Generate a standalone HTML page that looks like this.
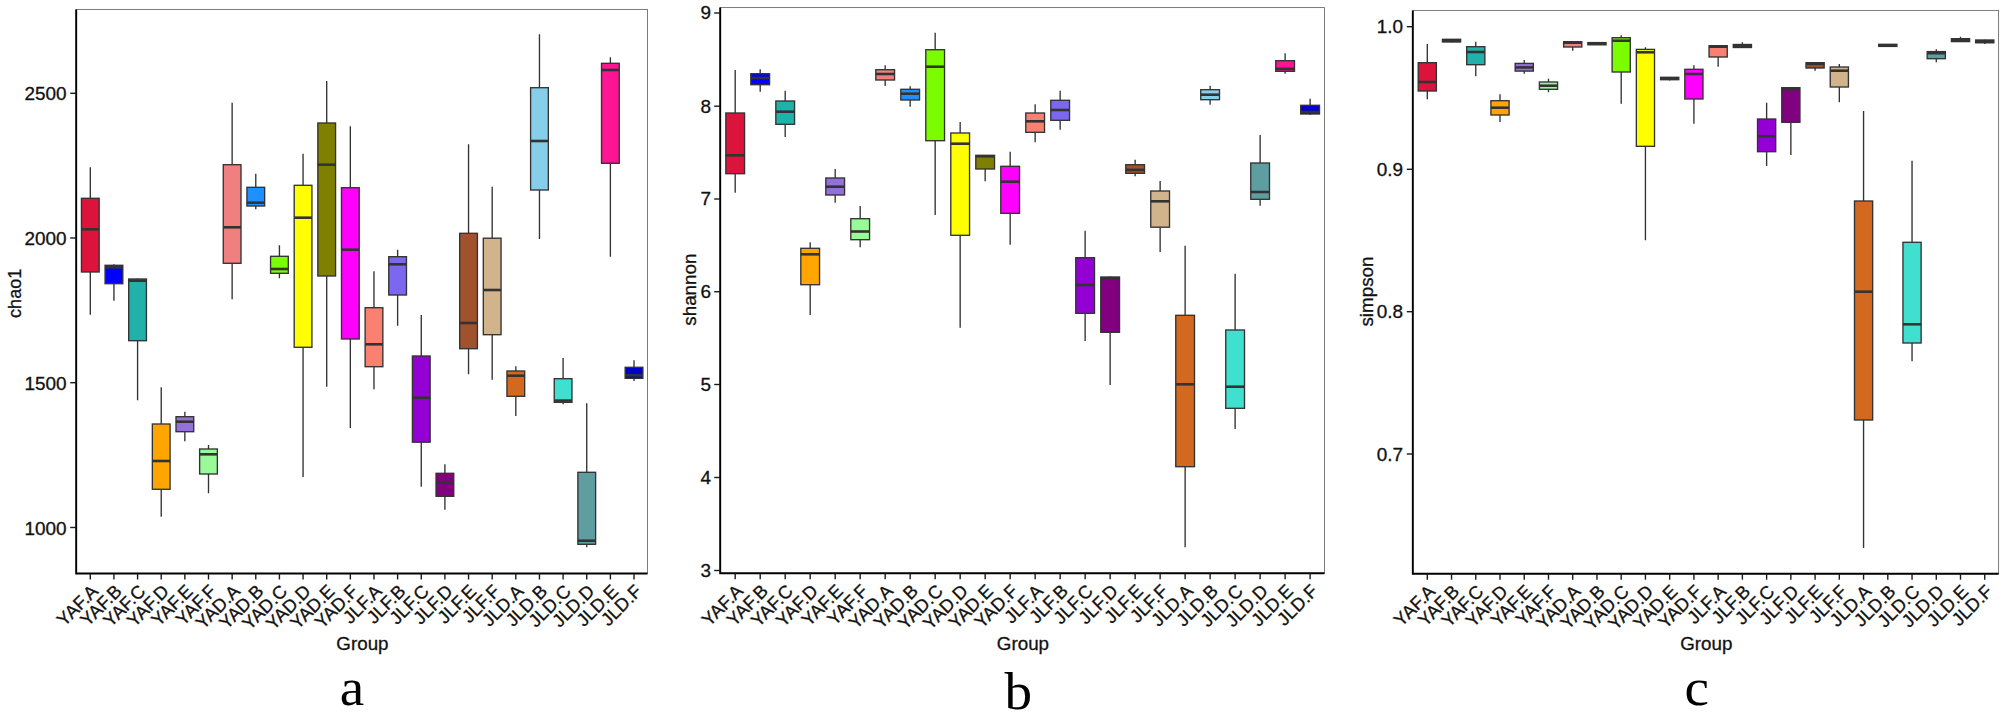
<!DOCTYPE html>
<html lang="en"><head><meta charset="utf-8"><title>Alpha diversity boxplots</title>
<style>html,body{margin:0;padding:0;background:#fff}body{width:2006px;height:720px;overflow:hidden}svg{display:block}text{font-family:"Liberation Sans",sans-serif;fill:#111}text{stroke:#111;stroke-width:0.3px}.t{font-size:18.2px}.x{font-size:18.3px}.g{font-size:18.8px}.s{font-family:"Liberation Serif",serif;font-size:53px;fill:#000;stroke:none}</style></head><body>
<svg width="2006" height="720" viewBox="0 0 2006 720">
<rect width="2006" height="720" fill="#fff"/>
<g>
<rect x="76.20" y="9.40" width="571.30" height="564.10" fill="none" stroke="#666" stroke-width="0.85"/>
<path d="M90.30 167.30V198.30M90.30 272.00V314.70" stroke="#333" stroke-width="1.35" fill="none"/>
<rect x="81.44" y="198.30" width="17.73" height="73.70" fill="#DC143C" stroke="#333" stroke-width="1.35"/>
<path d="M81.44 229.30H99.16" stroke="#333" stroke-width="2.6" fill="none"/>
<path d="M113.94 264.30V265.30M113.94 283.70V300.70" stroke="#333" stroke-width="1.35" fill="none"/>
<rect x="105.08" y="265.30" width="17.73" height="18.40" fill="#0000FF" stroke="#333" stroke-width="1.35"/>
<path d="M105.08 267.30H122.80" stroke="#333" stroke-width="2.6" fill="none"/>
<path d="M137.58 278.50V279.00M137.58 340.70V400.30" stroke="#333" stroke-width="1.35" fill="none"/>
<rect x="128.71" y="279.00" width="17.73" height="61.70" fill="#20B2AA" stroke="#333" stroke-width="1.35"/>
<path d="M128.71 280.70H146.44" stroke="#333" stroke-width="2.6" fill="none"/>
<path d="M161.22 387.30V424.00M161.22 489.30V516.70" stroke="#333" stroke-width="1.35" fill="none"/>
<rect x="152.35" y="424.00" width="17.73" height="65.30" fill="#FFA500" stroke="#333" stroke-width="1.35"/>
<path d="M152.35 461.00H170.09" stroke="#333" stroke-width="2.6" fill="none"/>
<path d="M184.86 411.70V416.70M184.86 431.70V441.30" stroke="#333" stroke-width="1.35" fill="none"/>
<rect x="176.00" y="416.70" width="17.73" height="15.00" fill="#9370DB" stroke="#333" stroke-width="1.35"/>
<path d="M176.00 421.70H193.73" stroke="#333" stroke-width="2.6" fill="none"/>
<path d="M208.50 445.00V449.00M208.50 474.00V493.30" stroke="#333" stroke-width="1.35" fill="none"/>
<rect x="199.63" y="449.00" width="17.73" height="25.00" fill="#98FB98" stroke="#333" stroke-width="1.35"/>
<path d="M199.63 454.30H217.37" stroke="#333" stroke-width="2.6" fill="none"/>
<path d="M232.14 102.70V164.70M232.14 263.30V299.30" stroke="#333" stroke-width="1.35" fill="none"/>
<rect x="223.27" y="164.70" width="17.73" height="98.60" fill="#F08080" stroke="#333" stroke-width="1.35"/>
<path d="M223.27 227.30H241.00" stroke="#333" stroke-width="2.6" fill="none"/>
<path d="M255.78 173.70V187.30M255.78 206.00V209.30" stroke="#333" stroke-width="1.35" fill="none"/>
<rect x="246.92" y="187.30" width="17.73" height="18.70" fill="#1E90FF" stroke="#333" stroke-width="1.35"/>
<path d="M246.92 202.70H264.65" stroke="#333" stroke-width="2.6" fill="none"/>
<path d="M279.42 245.30V256.30M279.42 273.30V278.30" stroke="#333" stroke-width="1.35" fill="none"/>
<rect x="270.56" y="256.30" width="17.73" height="17.00" fill="#7CFC00" stroke="#333" stroke-width="1.35"/>
<path d="M270.56 269.00H288.29" stroke="#333" stroke-width="2.6" fill="none"/>
<path d="M303.06 153.70V185.30M303.06 347.30V477.00" stroke="#333" stroke-width="1.35" fill="none"/>
<rect x="294.19" y="185.30" width="17.73" height="162.00" fill="#FFFF00" stroke="#333" stroke-width="1.35"/>
<path d="M294.19 217.70H311.93" stroke="#333" stroke-width="2.6" fill="none"/>
<path d="M326.70 81.00V123.00M326.70 276.00V386.70" stroke="#333" stroke-width="1.35" fill="none"/>
<rect x="317.83" y="123.00" width="17.73" height="153.00" fill="#808000" stroke="#333" stroke-width="1.35"/>
<path d="M317.83 164.70H335.56" stroke="#333" stroke-width="2.6" fill="none"/>
<path d="M350.34 126.30V187.70M350.34 339.00V428.00" stroke="#333" stroke-width="1.35" fill="none"/>
<rect x="341.48" y="187.70" width="17.73" height="151.30" fill="#FF00FF" stroke="#333" stroke-width="1.35"/>
<path d="M341.48 249.70H359.21" stroke="#333" stroke-width="2.6" fill="none"/>
<path d="M373.98 271.30V307.70M373.98 366.70V389.30" stroke="#333" stroke-width="1.35" fill="none"/>
<rect x="365.12" y="307.70" width="17.73" height="59.00" fill="#FA8072" stroke="#333" stroke-width="1.35"/>
<path d="M365.12 344.30H382.85" stroke="#333" stroke-width="2.6" fill="none"/>
<path d="M397.62 249.70V256.70M397.62 295.00V325.70" stroke="#333" stroke-width="1.35" fill="none"/>
<rect x="388.75" y="256.70" width="17.73" height="38.30" fill="#7B68EE" stroke="#333" stroke-width="1.35"/>
<path d="M388.75 264.30H406.49" stroke="#333" stroke-width="2.6" fill="none"/>
<path d="M421.26 315.00V356.00M421.26 442.20V486.70" stroke="#333" stroke-width="1.35" fill="none"/>
<rect x="412.40" y="356.00" width="17.73" height="86.20" fill="#9400D3" stroke="#333" stroke-width="1.35"/>
<path d="M412.40 397.70H430.13" stroke="#333" stroke-width="2.6" fill="none"/>
<path d="M444.90 464.30V473.30M444.90 496.30V509.70" stroke="#333" stroke-width="1.35" fill="none"/>
<rect x="436.04" y="473.30" width="17.73" height="23.00" fill="#800080" stroke="#333" stroke-width="1.35"/>
<path d="M436.04 482.70H453.77" stroke="#333" stroke-width="2.6" fill="none"/>
<path d="M468.54 144.30V233.30M468.54 348.70V374.30" stroke="#333" stroke-width="1.35" fill="none"/>
<rect x="459.68" y="233.30" width="17.73" height="115.40" fill="#A0522D" stroke="#333" stroke-width="1.35"/>
<path d="M459.68 323.00H477.41" stroke="#333" stroke-width="2.6" fill="none"/>
<path d="M492.18 186.70V238.20M492.18 334.70V379.70" stroke="#333" stroke-width="1.35" fill="none"/>
<rect x="483.31" y="238.20" width="17.73" height="96.50" fill="#D2B48C" stroke="#333" stroke-width="1.35"/>
<path d="M483.31 290.00H501.05" stroke="#333" stroke-width="2.6" fill="none"/>
<path d="M515.82 366.30V371.00M515.82 396.30V416.00" stroke="#333" stroke-width="1.35" fill="none"/>
<rect x="506.95" y="371.00" width="17.73" height="25.30" fill="#D2691E" stroke="#333" stroke-width="1.35"/>
<path d="M506.95 375.70H524.68" stroke="#333" stroke-width="2.6" fill="none"/>
<path d="M539.46 34.30V87.70M539.46 190.00V239.00" stroke="#333" stroke-width="1.35" fill="none"/>
<rect x="530.60" y="87.70" width="17.73" height="102.30" fill="#87CEEB" stroke="#333" stroke-width="1.35"/>
<path d="M530.60 141.00H548.33" stroke="#333" stroke-width="2.6" fill="none"/>
<path d="M563.10 358.00V378.70M563.10 402.30V404.30" stroke="#333" stroke-width="1.35" fill="none"/>
<rect x="554.24" y="378.70" width="17.73" height="23.60" fill="#40E0D0" stroke="#333" stroke-width="1.35"/>
<path d="M554.24 400.60H571.97" stroke="#333" stroke-width="2.6" fill="none"/>
<path d="M586.74 403.30V472.30M586.74 544.30V547.30" stroke="#333" stroke-width="1.35" fill="none"/>
<rect x="577.88" y="472.30" width="17.73" height="72.00" fill="#5F9EA0" stroke="#333" stroke-width="1.35"/>
<path d="M577.88 540.70H595.61" stroke="#333" stroke-width="2.6" fill="none"/>
<path d="M610.38 57.30V63.30M610.38 163.30V256.70" stroke="#333" stroke-width="1.35" fill="none"/>
<rect x="601.51" y="63.30" width="17.73" height="100.00" fill="#FF1493" stroke="#333" stroke-width="1.35"/>
<path d="M601.51 70.00H619.25" stroke="#333" stroke-width="2.6" fill="none"/>
<path d="M634.02 360.30V367.30M634.02 378.30V381.00" stroke="#333" stroke-width="1.35" fill="none"/>
<rect x="625.15" y="367.30" width="17.73" height="11.00" fill="#0000CD" stroke="#333" stroke-width="1.35"/>
<path d="M625.15 375.30H642.88" stroke="#333" stroke-width="2.6" fill="none"/>
<path d="M76.20 9.40V573.50H647.50" stroke="#000" stroke-width="1.9" fill="none" stroke-linejoin="miter"/>
<path d="M70.20 93.30H76.20" stroke="#1a1a1a" stroke-width="1.4"/>
<text class="t" text-anchor="end" transform="translate(66.50 100.35) scale(1.04 1)">2500</text>
<path d="M70.20 238.00H76.20" stroke="#1a1a1a" stroke-width="1.4"/>
<text class="t" text-anchor="end" transform="translate(66.50 245.05) scale(1.04 1)">2000</text>
<path d="M70.20 382.70H76.20" stroke="#1a1a1a" stroke-width="1.4"/>
<text class="t" text-anchor="end" transform="translate(66.50 389.75) scale(1.04 1)">1500</text>
<path d="M70.20 527.50H76.20" stroke="#1a1a1a" stroke-width="1.4"/>
<text class="t" text-anchor="end" transform="translate(66.50 534.55) scale(1.04 1)">1000</text>
<path d="M90.30 573.50V579.50" stroke="#1a1a1a" stroke-width="1.4"/>
<text class="x" text-anchor="end" transform="translate(99.20 592.40) rotate(-45)">YAF.A</text>
<path d="M113.94 573.50V579.50" stroke="#1a1a1a" stroke-width="1.4"/>
<text class="x" text-anchor="end" transform="translate(122.84 592.40) rotate(-45)">YAF.B</text>
<path d="M137.58 573.50V579.50" stroke="#1a1a1a" stroke-width="1.4"/>
<text class="x" text-anchor="end" transform="translate(146.48 592.40) rotate(-45)">YAF.C</text>
<path d="M161.22 573.50V579.50" stroke="#1a1a1a" stroke-width="1.4"/>
<text class="x" text-anchor="end" transform="translate(170.12 592.40) rotate(-45)">YAF.D</text>
<path d="M184.86 573.50V579.50" stroke="#1a1a1a" stroke-width="1.4"/>
<text class="x" text-anchor="end" transform="translate(193.76 592.40) rotate(-45)">YAF.E</text>
<path d="M208.50 573.50V579.50" stroke="#1a1a1a" stroke-width="1.4"/>
<text class="x" text-anchor="end" transform="translate(217.40 592.40) rotate(-45)">YAF.F</text>
<path d="M232.14 573.50V579.50" stroke="#1a1a1a" stroke-width="1.4"/>
<text class="x" text-anchor="end" transform="translate(241.04 592.40) rotate(-45)">YAD.A</text>
<path d="M255.78 573.50V579.50" stroke="#1a1a1a" stroke-width="1.4"/>
<text class="x" text-anchor="end" transform="translate(264.68 592.40) rotate(-45)">YAD.B</text>
<path d="M279.42 573.50V579.50" stroke="#1a1a1a" stroke-width="1.4"/>
<text class="x" text-anchor="end" transform="translate(288.32 592.40) rotate(-45)">YAD.C</text>
<path d="M303.06 573.50V579.50" stroke="#1a1a1a" stroke-width="1.4"/>
<text class="x" text-anchor="end" transform="translate(311.96 592.40) rotate(-45)">YAD.D</text>
<path d="M326.70 573.50V579.50" stroke="#1a1a1a" stroke-width="1.4"/>
<text class="x" text-anchor="end" transform="translate(335.60 592.40) rotate(-45)">YAD.E</text>
<path d="M350.34 573.50V579.50" stroke="#1a1a1a" stroke-width="1.4"/>
<text class="x" text-anchor="end" transform="translate(359.24 592.40) rotate(-45)">YAD.F</text>
<path d="M373.98 573.50V579.50" stroke="#1a1a1a" stroke-width="1.4"/>
<text class="x" text-anchor="end" transform="translate(382.88 592.40) rotate(-45)">JLF.A</text>
<path d="M397.62 573.50V579.50" stroke="#1a1a1a" stroke-width="1.4"/>
<text class="x" text-anchor="end" transform="translate(406.52 592.40) rotate(-45)">JLF.B</text>
<path d="M421.26 573.50V579.50" stroke="#1a1a1a" stroke-width="1.4"/>
<text class="x" text-anchor="end" transform="translate(430.16 592.40) rotate(-45)">JLF.C</text>
<path d="M444.90 573.50V579.50" stroke="#1a1a1a" stroke-width="1.4"/>
<text class="x" text-anchor="end" transform="translate(453.80 592.40) rotate(-45)">JLF.D</text>
<path d="M468.54 573.50V579.50" stroke="#1a1a1a" stroke-width="1.4"/>
<text class="x" text-anchor="end" transform="translate(477.44 592.40) rotate(-45)">JLF.E</text>
<path d="M492.18 573.50V579.50" stroke="#1a1a1a" stroke-width="1.4"/>
<text class="x" text-anchor="end" transform="translate(501.08 592.40) rotate(-45)">JLF.F</text>
<path d="M515.82 573.50V579.50" stroke="#1a1a1a" stroke-width="1.4"/>
<text class="x" text-anchor="end" transform="translate(524.72 592.40) rotate(-45)">JLD.A</text>
<path d="M539.46 573.50V579.50" stroke="#1a1a1a" stroke-width="1.4"/>
<text class="x" text-anchor="end" transform="translate(548.36 592.40) rotate(-45)">JLD.B</text>
<path d="M563.10 573.50V579.50" stroke="#1a1a1a" stroke-width="1.4"/>
<text class="x" text-anchor="end" transform="translate(572.00 592.40) rotate(-45)">JLD.C</text>
<path d="M586.74 573.50V579.50" stroke="#1a1a1a" stroke-width="1.4"/>
<text class="x" text-anchor="end" transform="translate(595.64 592.40) rotate(-45)">JLD.D</text>
<path d="M610.38 573.50V579.50" stroke="#1a1a1a" stroke-width="1.4"/>
<text class="x" text-anchor="end" transform="translate(619.28 592.40) rotate(-45)">JLD.E</text>
<path d="M634.02 573.50V579.50" stroke="#1a1a1a" stroke-width="1.4"/>
<text class="x" text-anchor="end" transform="translate(642.92 592.40) rotate(-45)">JLD.F</text>
<text class="g" text-anchor="middle" transform="translate(362.45 650)">Group</text>
<text class="g" text-anchor="middle" transform="translate(20.90 293.35) rotate(-90) scale(0.96 1)">chao1</text>
<text class="s" text-anchor="middle" transform="translate(352.00 705.30) scale(1.04 1)">a</text>
</g>
<g>
<rect x="720.20" y="7.60" width="604.30" height="565.70" fill="none" stroke="#666" stroke-width="0.85"/>
<path d="M735.20 70.00V113.00M735.20 173.70V192.70" stroke="#333" stroke-width="1.35" fill="none"/>
<rect x="725.83" y="113.00" width="18.75" height="60.70" fill="#DC143C" stroke="#333" stroke-width="1.35"/>
<path d="M725.83 155.30H744.57" stroke="#333" stroke-width="2.6" fill="none"/>
<path d="M760.20 69.30V73.70M760.20 84.70V91.70" stroke="#333" stroke-width="1.35" fill="none"/>
<rect x="750.82" y="73.70" width="18.75" height="11.00" fill="#0000FF" stroke="#333" stroke-width="1.35"/>
<path d="M750.82 78.00H769.57" stroke="#333" stroke-width="2.6" fill="none"/>
<path d="M785.19 90.70V101.00M785.19 124.30V137.00" stroke="#333" stroke-width="1.35" fill="none"/>
<rect x="775.82" y="101.00" width="18.75" height="23.30" fill="#20B2AA" stroke="#333" stroke-width="1.35"/>
<path d="M775.82 111.70H794.57" stroke="#333" stroke-width="2.6" fill="none"/>
<path d="M810.19 242.30V248.30M810.19 284.70V315.00" stroke="#333" stroke-width="1.35" fill="none"/>
<rect x="800.81" y="248.30" width="18.75" height="36.40" fill="#FFA500" stroke="#333" stroke-width="1.35"/>
<path d="M800.81 254.30H819.56" stroke="#333" stroke-width="2.6" fill="none"/>
<path d="M835.18 169.00V178.00M835.18 195.00V202.70" stroke="#333" stroke-width="1.35" fill="none"/>
<rect x="825.81" y="178.00" width="18.75" height="17.00" fill="#9370DB" stroke="#333" stroke-width="1.35"/>
<path d="M825.81 186.70H844.56" stroke="#333" stroke-width="2.6" fill="none"/>
<path d="M860.18 206.00V218.70M860.18 239.70V247.30" stroke="#333" stroke-width="1.35" fill="none"/>
<rect x="850.81" y="218.70" width="18.75" height="21.00" fill="#98FB98" stroke="#333" stroke-width="1.35"/>
<path d="M850.81 231.50H869.55" stroke="#333" stroke-width="2.6" fill="none"/>
<path d="M885.18 65.30V69.70M885.18 80.00V86.00" stroke="#333" stroke-width="1.35" fill="none"/>
<rect x="875.80" y="69.70" width="18.75" height="10.30" fill="#F08080" stroke="#333" stroke-width="1.35"/>
<path d="M875.80 74.00H894.55" stroke="#333" stroke-width="2.6" fill="none"/>
<path d="M910.17 86.30V89.30M910.17 100.00V106.70" stroke="#333" stroke-width="1.35" fill="none"/>
<rect x="900.80" y="89.30" width="18.75" height="10.70" fill="#1E90FF" stroke="#333" stroke-width="1.35"/>
<path d="M900.80 93.70H919.55" stroke="#333" stroke-width="2.6" fill="none"/>
<path d="M935.17 32.70V49.70M935.17 140.70V215.00" stroke="#333" stroke-width="1.35" fill="none"/>
<rect x="925.79" y="49.70" width="18.75" height="91.00" fill="#7CFC00" stroke="#333" stroke-width="1.35"/>
<path d="M925.79 66.70H944.54" stroke="#333" stroke-width="2.6" fill="none"/>
<path d="M960.16 122.00V133.00M960.16 235.30V327.70" stroke="#333" stroke-width="1.35" fill="none"/>
<rect x="950.79" y="133.00" width="18.75" height="102.30" fill="#FFFF00" stroke="#333" stroke-width="1.35"/>
<path d="M950.79 143.70H969.54" stroke="#333" stroke-width="2.6" fill="none"/>
<path d="M985.16 155.00V155.30M985.16 169.00V181.30" stroke="#333" stroke-width="1.35" fill="none"/>
<rect x="975.79" y="155.30" width="18.75" height="13.70" fill="#808000" stroke="#333" stroke-width="1.35"/>
<path d="M975.79 156.30H994.53" stroke="#333" stroke-width="2.6" fill="none"/>
<path d="M1010.16 151.70V166.30M1010.16 213.30V244.70" stroke="#333" stroke-width="1.35" fill="none"/>
<rect x="1000.78" y="166.30" width="18.75" height="47.00" fill="#FF00FF" stroke="#333" stroke-width="1.35"/>
<path d="M1000.78 181.70H1019.53" stroke="#333" stroke-width="2.6" fill="none"/>
<path d="M1035.15 104.30V113.00M1035.15 132.30V142.30" stroke="#333" stroke-width="1.35" fill="none"/>
<rect x="1025.78" y="113.00" width="18.75" height="19.30" fill="#FA8072" stroke="#333" stroke-width="1.35"/>
<path d="M1025.78 121.30H1044.53" stroke="#333" stroke-width="2.6" fill="none"/>
<path d="M1060.15 90.70V100.30M1060.15 120.30V129.70" stroke="#333" stroke-width="1.35" fill="none"/>
<rect x="1050.77" y="100.30" width="18.75" height="20.00" fill="#7B68EE" stroke="#333" stroke-width="1.35"/>
<path d="M1050.77 110.00H1069.52" stroke="#333" stroke-width="2.6" fill="none"/>
<path d="M1085.14 230.70V257.70M1085.14 313.30V341.00" stroke="#333" stroke-width="1.35" fill="none"/>
<rect x="1075.77" y="257.70" width="18.75" height="55.60" fill="#9400D3" stroke="#333" stroke-width="1.35"/>
<path d="M1075.77 285.00H1094.52" stroke="#333" stroke-width="2.6" fill="none"/>
<path d="M1110.14 276.50V277.00M1110.14 332.30V385.00" stroke="#333" stroke-width="1.35" fill="none"/>
<rect x="1100.77" y="277.00" width="18.75" height="55.30" fill="#800080" stroke="#333" stroke-width="1.35"/>
<path d="M1100.77 278.70H1119.51" stroke="#333" stroke-width="2.6" fill="none"/>
<path d="M1135.14 159.70V164.70M1135.14 173.30V176.30" stroke="#333" stroke-width="1.35" fill="none"/>
<rect x="1125.76" y="164.70" width="18.75" height="8.60" fill="#A0522D" stroke="#333" stroke-width="1.35"/>
<path d="M1125.76 169.90H1144.51" stroke="#333" stroke-width="2.6" fill="none"/>
<path d="M1160.13 181.00V191.00M1160.13 227.20V252.00" stroke="#333" stroke-width="1.35" fill="none"/>
<rect x="1150.76" y="191.00" width="18.75" height="36.20" fill="#D2B48C" stroke="#333" stroke-width="1.35"/>
<path d="M1150.76 201.30H1169.51" stroke="#333" stroke-width="2.6" fill="none"/>
<path d="M1185.13 245.70V315.30M1185.13 466.70V547.30" stroke="#333" stroke-width="1.35" fill="none"/>
<rect x="1175.75" y="315.30" width="18.75" height="151.40" fill="#D2691E" stroke="#333" stroke-width="1.35"/>
<path d="M1175.75 384.30H1194.50" stroke="#333" stroke-width="2.6" fill="none"/>
<path d="M1210.12 85.70V89.70M1210.12 99.70V104.70" stroke="#333" stroke-width="1.35" fill="none"/>
<rect x="1200.75" y="89.70" width="18.75" height="10.00" fill="#87CEEB" stroke="#333" stroke-width="1.35"/>
<path d="M1200.75 94.70H1219.50" stroke="#333" stroke-width="2.6" fill="none"/>
<path d="M1235.12 273.70V330.00M1235.12 408.30V429.00" stroke="#333" stroke-width="1.35" fill="none"/>
<rect x="1225.75" y="330.00" width="18.75" height="78.30" fill="#40E0D0" stroke="#333" stroke-width="1.35"/>
<path d="M1225.75 386.70H1244.49" stroke="#333" stroke-width="2.6" fill="none"/>
<path d="M1260.12 135.00V163.00M1260.12 199.30V205.70" stroke="#333" stroke-width="1.35" fill="none"/>
<rect x="1250.74" y="163.00" width="18.75" height="36.30" fill="#5F9EA0" stroke="#333" stroke-width="1.35"/>
<path d="M1250.74 192.00H1269.49" stroke="#333" stroke-width="2.6" fill="none"/>
<path d="M1285.11 53.30V60.70M1285.11 71.30V73.70" stroke="#333" stroke-width="1.35" fill="none"/>
<rect x="1275.74" y="60.70" width="18.75" height="10.60" fill="#FF1493" stroke="#333" stroke-width="1.35"/>
<path d="M1275.74 68.90H1294.49" stroke="#333" stroke-width="2.6" fill="none"/>
<path d="M1310.11 98.70V105.30M1310.11 114.00V115.00" stroke="#333" stroke-width="1.35" fill="none"/>
<rect x="1300.73" y="105.30" width="18.75" height="8.70" fill="#0000CD" stroke="#333" stroke-width="1.35"/>
<path d="M1300.73 112.00H1319.48" stroke="#333" stroke-width="2.6" fill="none"/>
<path d="M720.20 7.60V573.30H1324.50" stroke="#000" stroke-width="1.9" fill="none" stroke-linejoin="miter"/>
<path d="M714.20 13.00H720.20" stroke="#1a1a1a" stroke-width="1.4"/>
<text class="t" text-anchor="end" transform="translate(711.00 19.45) scale(1.04 1)">9</text>
<path d="M714.20 106.20H720.20" stroke="#1a1a1a" stroke-width="1.4"/>
<text class="t" text-anchor="end" transform="translate(711.00 112.65) scale(1.04 1)">8</text>
<path d="M714.20 199.00H720.20" stroke="#1a1a1a" stroke-width="1.4"/>
<text class="t" text-anchor="end" transform="translate(711.00 205.45) scale(1.04 1)">7</text>
<path d="M714.20 291.70H720.20" stroke="#1a1a1a" stroke-width="1.4"/>
<text class="t" text-anchor="end" transform="translate(711.00 298.15) scale(1.04 1)">6</text>
<path d="M714.20 384.50H720.20" stroke="#1a1a1a" stroke-width="1.4"/>
<text class="t" text-anchor="end" transform="translate(711.00 390.95) scale(1.04 1)">5</text>
<path d="M714.20 477.50H720.20" stroke="#1a1a1a" stroke-width="1.4"/>
<text class="t" text-anchor="end" transform="translate(711.00 483.95) scale(1.04 1)">4</text>
<path d="M714.20 570.50H720.20" stroke="#1a1a1a" stroke-width="1.4"/>
<text class="t" text-anchor="end" transform="translate(711.00 576.95) scale(1.04 1)">3</text>
<path d="M735.20 573.30V579.30" stroke="#1a1a1a" stroke-width="1.4"/>
<text class="x" text-anchor="end" transform="translate(744.10 592.20) rotate(-45)">YAF.A</text>
<path d="M760.20 573.30V579.30" stroke="#1a1a1a" stroke-width="1.4"/>
<text class="x" text-anchor="end" transform="translate(769.10 592.20) rotate(-45)">YAF.B</text>
<path d="M785.19 573.30V579.30" stroke="#1a1a1a" stroke-width="1.4"/>
<text class="x" text-anchor="end" transform="translate(794.09 592.20) rotate(-45)">YAF.C</text>
<path d="M810.19 573.30V579.30" stroke="#1a1a1a" stroke-width="1.4"/>
<text class="x" text-anchor="end" transform="translate(819.09 592.20) rotate(-45)">YAF.D</text>
<path d="M835.18 573.30V579.30" stroke="#1a1a1a" stroke-width="1.4"/>
<text class="x" text-anchor="end" transform="translate(844.08 592.20) rotate(-45)">YAF.E</text>
<path d="M860.18 573.30V579.30" stroke="#1a1a1a" stroke-width="1.4"/>
<text class="x" text-anchor="end" transform="translate(869.08 592.20) rotate(-45)">YAF.F</text>
<path d="M885.18 573.30V579.30" stroke="#1a1a1a" stroke-width="1.4"/>
<text class="x" text-anchor="end" transform="translate(894.08 592.20) rotate(-45)">YAD.A</text>
<path d="M910.17 573.30V579.30" stroke="#1a1a1a" stroke-width="1.4"/>
<text class="x" text-anchor="end" transform="translate(919.07 592.20) rotate(-45)">YAD.B</text>
<path d="M935.17 573.30V579.30" stroke="#1a1a1a" stroke-width="1.4"/>
<text class="x" text-anchor="end" transform="translate(944.07 592.20) rotate(-45)">YAD.C</text>
<path d="M960.16 573.30V579.30" stroke="#1a1a1a" stroke-width="1.4"/>
<text class="x" text-anchor="end" transform="translate(969.06 592.20) rotate(-45)">YAD.D</text>
<path d="M985.16 573.30V579.30" stroke="#1a1a1a" stroke-width="1.4"/>
<text class="x" text-anchor="end" transform="translate(994.06 592.20) rotate(-45)">YAD.E</text>
<path d="M1010.16 573.30V579.30" stroke="#1a1a1a" stroke-width="1.4"/>
<text class="x" text-anchor="end" transform="translate(1019.06 592.20) rotate(-45)">YAD.F</text>
<path d="M1035.15 573.30V579.30" stroke="#1a1a1a" stroke-width="1.4"/>
<text class="x" text-anchor="end" transform="translate(1044.05 592.20) rotate(-45)">JLF.A</text>
<path d="M1060.15 573.30V579.30" stroke="#1a1a1a" stroke-width="1.4"/>
<text class="x" text-anchor="end" transform="translate(1069.05 592.20) rotate(-45)">JLF.B</text>
<path d="M1085.14 573.30V579.30" stroke="#1a1a1a" stroke-width="1.4"/>
<text class="x" text-anchor="end" transform="translate(1094.04 592.20) rotate(-45)">JLF.C</text>
<path d="M1110.14 573.30V579.30" stroke="#1a1a1a" stroke-width="1.4"/>
<text class="x" text-anchor="end" transform="translate(1119.04 592.20) rotate(-45)">JLF.D</text>
<path d="M1135.14 573.30V579.30" stroke="#1a1a1a" stroke-width="1.4"/>
<text class="x" text-anchor="end" transform="translate(1144.04 592.20) rotate(-45)">JLF.E</text>
<path d="M1160.13 573.30V579.30" stroke="#1a1a1a" stroke-width="1.4"/>
<text class="x" text-anchor="end" transform="translate(1169.03 592.20) rotate(-45)">JLF.F</text>
<path d="M1185.13 573.30V579.30" stroke="#1a1a1a" stroke-width="1.4"/>
<text class="x" text-anchor="end" transform="translate(1194.03 592.20) rotate(-45)">JLD.A</text>
<path d="M1210.12 573.30V579.30" stroke="#1a1a1a" stroke-width="1.4"/>
<text class="x" text-anchor="end" transform="translate(1219.02 592.20) rotate(-45)">JLD.B</text>
<path d="M1235.12 573.30V579.30" stroke="#1a1a1a" stroke-width="1.4"/>
<text class="x" text-anchor="end" transform="translate(1244.02 592.20) rotate(-45)">JLD.C</text>
<path d="M1260.12 573.30V579.30" stroke="#1a1a1a" stroke-width="1.4"/>
<text class="x" text-anchor="end" transform="translate(1269.02 592.20) rotate(-45)">JLD.D</text>
<path d="M1285.11 573.30V579.30" stroke="#1a1a1a" stroke-width="1.4"/>
<text class="x" text-anchor="end" transform="translate(1294.01 592.20) rotate(-45)">JLD.E</text>
<path d="M1310.11 573.30V579.30" stroke="#1a1a1a" stroke-width="1.4"/>
<text class="x" text-anchor="end" transform="translate(1319.01 592.20) rotate(-45)">JLD.F</text>
<text class="g" text-anchor="middle" transform="translate(1022.95 650)">Group</text>
<text class="g" text-anchor="middle" transform="translate(696.00 289.65) rotate(-90) scale(1 1)">shannon</text>
<text class="s" text-anchor="middle" transform="translate(1018.30 708.50) scale(1.04 1)">b</text>
</g>
<g>
<rect x="1412.80" y="10.40" width="585.80" height="563.30" fill="none" stroke="#666" stroke-width="0.85"/>
<path d="M1427.30 44.00V62.70M1427.30 91.00V99.30" stroke="#333" stroke-width="1.35" fill="none"/>
<rect x="1418.21" y="62.70" width="18.18" height="28.30" fill="#DC143C" stroke="#333" stroke-width="1.35"/>
<path d="M1418.21 82.00H1436.39" stroke="#333" stroke-width="2.6" fill="none"/>
<path d="M1451.54 39.00V39.30M1451.54 42.00V42.30" stroke="#333" stroke-width="1.35" fill="none"/>
<rect x="1442.45" y="39.30" width="18.18" height="2.70" fill="#0000FF" stroke="#333" stroke-width="1.35"/>
<path d="M1442.45 40.70H1460.63" stroke="#333" stroke-width="2.6" fill="none"/>
<path d="M1475.77 41.70V46.70M1475.77 64.70V76.30" stroke="#333" stroke-width="1.35" fill="none"/>
<rect x="1466.69" y="46.70" width="18.18" height="18.00" fill="#20B2AA" stroke="#333" stroke-width="1.35"/>
<path d="M1466.69 52.00H1484.86" stroke="#333" stroke-width="2.6" fill="none"/>
<path d="M1500.01 94.30V100.70M1500.01 115.00V122.00" stroke="#333" stroke-width="1.35" fill="none"/>
<rect x="1490.92" y="100.70" width="18.18" height="14.30" fill="#FFA500" stroke="#333" stroke-width="1.35"/>
<path d="M1490.92 107.70H1509.10" stroke="#333" stroke-width="2.6" fill="none"/>
<path d="M1524.25 60.00V63.40M1524.25 71.10V73.70" stroke="#333" stroke-width="1.35" fill="none"/>
<rect x="1515.16" y="63.40" width="18.18" height="7.70" fill="#9370DB" stroke="#333" stroke-width="1.35"/>
<path d="M1515.16 67.40H1533.34" stroke="#333" stroke-width="2.6" fill="none"/>
<path d="M1548.48 78.70V82.00M1548.48 89.30V92.30" stroke="#333" stroke-width="1.35" fill="none"/>
<rect x="1539.40" y="82.00" width="18.18" height="7.30" fill="#98FB98" stroke="#333" stroke-width="1.35"/>
<path d="M1539.40 85.70H1557.57" stroke="#333" stroke-width="2.6" fill="none"/>
<path d="M1572.72 41.00V41.70M1572.72 47.00V50.70" stroke="#333" stroke-width="1.35" fill="none"/>
<rect x="1563.63" y="41.70" width="18.18" height="5.30" fill="#F08080" stroke="#333" stroke-width="1.35"/>
<path d="M1563.63 42.70H1581.81" stroke="#333" stroke-width="2.6" fill="none"/>
<path d="M1596.96 42.30V42.60M1596.96 44.80V45.00" stroke="#333" stroke-width="1.35" fill="none"/>
<rect x="1587.87" y="42.60" width="18.18" height="2.20" fill="#1E90FF" stroke="#333" stroke-width="1.35"/>
<path d="M1587.87 43.70H1606.05" stroke="#333" stroke-width="2.6" fill="none"/>
<path d="M1621.20 35.30V37.70M1621.20 72.00V103.70" stroke="#333" stroke-width="1.35" fill="none"/>
<rect x="1612.11" y="37.70" width="18.18" height="34.30" fill="#7CFC00" stroke="#333" stroke-width="1.35"/>
<path d="M1612.11 40.70H1630.28" stroke="#333" stroke-width="2.6" fill="none"/>
<path d="M1645.43 47.30V49.40M1645.43 146.30V240.30" stroke="#333" stroke-width="1.35" fill="none"/>
<rect x="1636.34" y="49.40" width="18.18" height="96.90" fill="#FFFF00" stroke="#333" stroke-width="1.35"/>
<path d="M1636.34 52.30H1654.52" stroke="#333" stroke-width="2.6" fill="none"/>
<path d="M1669.67 77.00V77.30M1669.67 79.70V80.50" stroke="#333" stroke-width="1.35" fill="none"/>
<rect x="1660.58" y="77.30" width="18.18" height="2.40" fill="#808000" stroke="#333" stroke-width="1.35"/>
<path d="M1660.58 78.70H1678.76" stroke="#333" stroke-width="2.6" fill="none"/>
<path d="M1693.91 65.30V69.30M1693.91 99.00V123.70" stroke="#333" stroke-width="1.35" fill="none"/>
<rect x="1684.82" y="69.30" width="18.18" height="29.70" fill="#FF00FF" stroke="#333" stroke-width="1.35"/>
<path d="M1684.82 74.00H1703.00" stroke="#333" stroke-width="2.6" fill="none"/>
<path d="M1718.14 45.30V45.70M1718.14 57.00V66.70" stroke="#333" stroke-width="1.35" fill="none"/>
<rect x="1709.06" y="45.70" width="18.18" height="11.30" fill="#FA8072" stroke="#333" stroke-width="1.35"/>
<path d="M1709.06 46.70H1727.23" stroke="#333" stroke-width="2.6" fill="none"/>
<path d="M1742.38 42.30V44.50M1742.38 47.50V47.70" stroke="#333" stroke-width="1.35" fill="none"/>
<rect x="1733.29" y="44.50" width="18.18" height="3.00" fill="#7B68EE" stroke="#333" stroke-width="1.35"/>
<path d="M1733.29 46.00H1751.47" stroke="#333" stroke-width="2.6" fill="none"/>
<path d="M1766.62 102.70V119.00M1766.62 151.70V166.00" stroke="#333" stroke-width="1.35" fill="none"/>
<rect x="1757.53" y="119.00" width="18.18" height="32.70" fill="#9400D3" stroke="#333" stroke-width="1.35"/>
<path d="M1757.53 136.30H1775.71" stroke="#333" stroke-width="2.6" fill="none"/>
<path d="M1790.86 87.30V87.70M1790.86 122.30V155.00" stroke="#333" stroke-width="1.35" fill="none"/>
<rect x="1781.77" y="87.70" width="18.18" height="34.60" fill="#800080" stroke="#333" stroke-width="1.35"/>
<path d="M1781.77 89.00H1799.94" stroke="#333" stroke-width="2.6" fill="none"/>
<path d="M1815.09 62.00V62.70M1815.09 68.00V70.70" stroke="#333" stroke-width="1.35" fill="none"/>
<rect x="1806.00" y="62.70" width="18.18" height="5.30" fill="#A0522D" stroke="#333" stroke-width="1.35"/>
<path d="M1806.00 63.90H1824.18" stroke="#333" stroke-width="2.6" fill="none"/>
<path d="M1839.33 64.00V67.00M1839.33 87.00V102.30" stroke="#333" stroke-width="1.35" fill="none"/>
<rect x="1830.24" y="67.00" width="18.18" height="20.00" fill="#D2B48C" stroke="#333" stroke-width="1.35"/>
<path d="M1830.24 70.70H1848.42" stroke="#333" stroke-width="2.6" fill="none"/>
<path d="M1863.57 111.00V201.00M1863.57 420.00V548.00" stroke="#333" stroke-width="1.35" fill="none"/>
<rect x="1854.48" y="201.00" width="18.18" height="219.00" fill="#D2691E" stroke="#333" stroke-width="1.35"/>
<path d="M1854.48 291.70H1872.65" stroke="#333" stroke-width="2.6" fill="none"/>
<path d="M1887.80 44.00V44.30M1887.80 46.40V46.70" stroke="#333" stroke-width="1.35" fill="none"/>
<rect x="1878.71" y="44.30" width="18.18" height="2.10" fill="#87CEEB" stroke="#333" stroke-width="1.35"/>
<path d="M1878.71 45.30H1896.89" stroke="#333" stroke-width="2.6" fill="none"/>
<path d="M1912.04 160.70V242.30M1912.04 343.00V361.30" stroke="#333" stroke-width="1.35" fill="none"/>
<rect x="1902.95" y="242.30" width="18.18" height="100.70" fill="#40E0D0" stroke="#333" stroke-width="1.35"/>
<path d="M1902.95 324.30H1921.13" stroke="#333" stroke-width="2.6" fill="none"/>
<path d="M1936.28 49.30V51.60M1936.28 58.70V62.30" stroke="#333" stroke-width="1.35" fill="none"/>
<rect x="1927.19" y="51.60" width="18.18" height="7.10" fill="#5F9EA0" stroke="#333" stroke-width="1.35"/>
<path d="M1927.19 53.20H1945.37" stroke="#333" stroke-width="2.6" fill="none"/>
<path d="M1960.51 36.70V38.70M1960.51 41.60V42.00" stroke="#333" stroke-width="1.35" fill="none"/>
<rect x="1951.43" y="38.70" width="18.18" height="2.90" fill="#FF1493" stroke="#333" stroke-width="1.35"/>
<path d="M1951.43 40.20H1969.60" stroke="#333" stroke-width="2.6" fill="none"/>
<path d="M1984.75 39.70V40.00M1984.75 42.80V44.00" stroke="#333" stroke-width="1.35" fill="none"/>
<rect x="1975.66" y="40.00" width="18.18" height="2.80" fill="#0000CD" stroke="#333" stroke-width="1.35"/>
<path d="M1975.66 41.30H1993.84" stroke="#333" stroke-width="2.6" fill="none"/>
<path d="M1412.80 10.40V573.70H1998.60" stroke="#000" stroke-width="1.9" fill="none" stroke-linejoin="miter"/>
<path d="M1406.80 26.70H1412.80" stroke="#1a1a1a" stroke-width="1.4"/>
<text class="t" text-anchor="end" transform="translate(1403.00 33.35) scale(1.04 1)">1.0</text>
<path d="M1406.80 169.30H1412.80" stroke="#1a1a1a" stroke-width="1.4"/>
<text class="t" text-anchor="end" transform="translate(1403.00 175.95) scale(1.04 1)">0.9</text>
<path d="M1406.80 311.70H1412.80" stroke="#1a1a1a" stroke-width="1.4"/>
<text class="t" text-anchor="end" transform="translate(1403.00 318.35) scale(1.04 1)">0.8</text>
<path d="M1406.80 454.00H1412.80" stroke="#1a1a1a" stroke-width="1.4"/>
<text class="t" text-anchor="end" transform="translate(1403.00 460.65) scale(1.04 1)">0.7</text>
<path d="M1427.30 573.70V579.70" stroke="#1a1a1a" stroke-width="1.4"/>
<text class="x" text-anchor="end" transform="translate(1436.20 592.60) rotate(-45)">YAF.A</text>
<path d="M1451.54 573.70V579.70" stroke="#1a1a1a" stroke-width="1.4"/>
<text class="x" text-anchor="end" transform="translate(1460.44 592.60) rotate(-45)">YAF.B</text>
<path d="M1475.77 573.70V579.70" stroke="#1a1a1a" stroke-width="1.4"/>
<text class="x" text-anchor="end" transform="translate(1484.67 592.60) rotate(-45)">YAF.C</text>
<path d="M1500.01 573.70V579.70" stroke="#1a1a1a" stroke-width="1.4"/>
<text class="x" text-anchor="end" transform="translate(1508.91 592.60) rotate(-45)">YAF.D</text>
<path d="M1524.25 573.70V579.70" stroke="#1a1a1a" stroke-width="1.4"/>
<text class="x" text-anchor="end" transform="translate(1533.15 592.60) rotate(-45)">YAF.E</text>
<path d="M1548.48 573.70V579.70" stroke="#1a1a1a" stroke-width="1.4"/>
<text class="x" text-anchor="end" transform="translate(1557.38 592.60) rotate(-45)">YAF.F</text>
<path d="M1572.72 573.70V579.70" stroke="#1a1a1a" stroke-width="1.4"/>
<text class="x" text-anchor="end" transform="translate(1581.62 592.60) rotate(-45)">YAD.A</text>
<path d="M1596.96 573.70V579.70" stroke="#1a1a1a" stroke-width="1.4"/>
<text class="x" text-anchor="end" transform="translate(1605.86 592.60) rotate(-45)">YAD.B</text>
<path d="M1621.20 573.70V579.70" stroke="#1a1a1a" stroke-width="1.4"/>
<text class="x" text-anchor="end" transform="translate(1630.10 592.60) rotate(-45)">YAD.C</text>
<path d="M1645.43 573.70V579.70" stroke="#1a1a1a" stroke-width="1.4"/>
<text class="x" text-anchor="end" transform="translate(1654.33 592.60) rotate(-45)">YAD.D</text>
<path d="M1669.67 573.70V579.70" stroke="#1a1a1a" stroke-width="1.4"/>
<text class="x" text-anchor="end" transform="translate(1678.57 592.60) rotate(-45)">YAD.E</text>
<path d="M1693.91 573.70V579.70" stroke="#1a1a1a" stroke-width="1.4"/>
<text class="x" text-anchor="end" transform="translate(1702.81 592.60) rotate(-45)">YAD.F</text>
<path d="M1718.14 573.70V579.70" stroke="#1a1a1a" stroke-width="1.4"/>
<text class="x" text-anchor="end" transform="translate(1727.04 592.60) rotate(-45)">JLF.A</text>
<path d="M1742.38 573.70V579.70" stroke="#1a1a1a" stroke-width="1.4"/>
<text class="x" text-anchor="end" transform="translate(1751.28 592.60) rotate(-45)">JLF.B</text>
<path d="M1766.62 573.70V579.70" stroke="#1a1a1a" stroke-width="1.4"/>
<text class="x" text-anchor="end" transform="translate(1775.52 592.60) rotate(-45)">JLF.C</text>
<path d="M1790.86 573.70V579.70" stroke="#1a1a1a" stroke-width="1.4"/>
<text class="x" text-anchor="end" transform="translate(1799.76 592.60) rotate(-45)">JLF.D</text>
<path d="M1815.09 573.70V579.70" stroke="#1a1a1a" stroke-width="1.4"/>
<text class="x" text-anchor="end" transform="translate(1823.99 592.60) rotate(-45)">JLF.E</text>
<path d="M1839.33 573.70V579.70" stroke="#1a1a1a" stroke-width="1.4"/>
<text class="x" text-anchor="end" transform="translate(1848.23 592.60) rotate(-45)">JLF.F</text>
<path d="M1863.57 573.70V579.70" stroke="#1a1a1a" stroke-width="1.4"/>
<text class="x" text-anchor="end" transform="translate(1872.47 592.60) rotate(-45)">JLD.A</text>
<path d="M1887.80 573.70V579.70" stroke="#1a1a1a" stroke-width="1.4"/>
<text class="x" text-anchor="end" transform="translate(1896.70 592.60) rotate(-45)">JLD.B</text>
<path d="M1912.04 573.70V579.70" stroke="#1a1a1a" stroke-width="1.4"/>
<text class="x" text-anchor="end" transform="translate(1920.94 592.60) rotate(-45)">JLD.C</text>
<path d="M1936.28 573.70V579.70" stroke="#1a1a1a" stroke-width="1.4"/>
<text class="x" text-anchor="end" transform="translate(1945.18 592.60) rotate(-45)">JLD.D</text>
<path d="M1960.51 573.70V579.70" stroke="#1a1a1a" stroke-width="1.4"/>
<text class="x" text-anchor="end" transform="translate(1969.41 592.60) rotate(-45)">JLD.E</text>
<path d="M1984.75 573.70V579.70" stroke="#1a1a1a" stroke-width="1.4"/>
<text class="x" text-anchor="end" transform="translate(1993.65 592.60) rotate(-45)">JLD.F</text>
<text class="g" text-anchor="middle" transform="translate(1706.30 650)">Group</text>
<text class="g" text-anchor="middle" transform="translate(1372.50 291.55) rotate(-90) scale(1 1)">simpson</text>
<text class="s" text-anchor="middle" transform="translate(1696.70 705.30) scale(1.04 1)">c</text>
</g>
</svg></body></html>
